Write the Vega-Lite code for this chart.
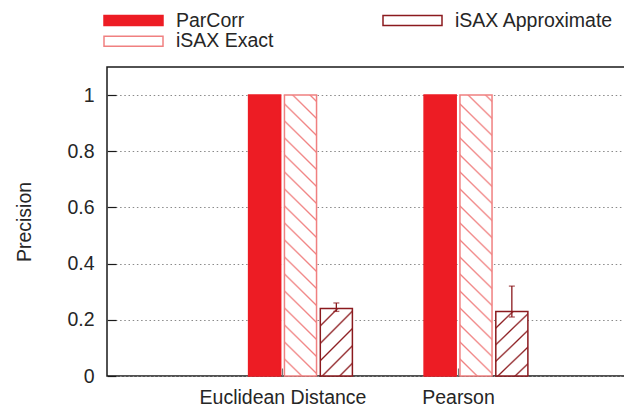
{
  "$schema": "https://vega.github.io/schema/vega-lite/v6.json",
  "width": 518,
  "height": 309,
  "autosize": {"type": "none"},
  "padding": {"left": 107, "top": 67, "right": 0, "bottom": 29},
  "background": "#ffffff",
  "config": {
    "font": "Liberation Sans",
    "view": {"stroke": "#1a1a1a", "strokeWidth": 1.5},
    "axis": {
      "labelFont": "Liberation Sans",
      "labelFontSize": 19.5,
      "labelColor": "#262626",
      "titleFont": "Liberation Sans",
      "titleFontSize": 19.5,
      "titleFontWeight": "normal",
      "titleColor": "#262626",
      "domain": false
    },
    "legend": {
      "orient": "none",
      "legendX": -4,
      "legendY": -57,
      "columns": 2,
      "direction": "horizontal",
      "symbolType": "M-1,-0.1695L1,-0.1695L1,0.1695L-1,0.1695Z",
      "symbolSize": 3481,
      "symbolStrokeWidth": 1.5,
      "symbolOpacity": 1,
      "clipHeight": 20.5,
      "rowPadding": 0,
      "columnPadding": 108,
      "labelOffset": 12,
      "labelFont": "Liberation Sans",
      "labelFontSize": 19.5,
      "labelColor": "#262626",
      "labelLimit": 400,
      "padding": 0
    }
  },
  "data": {
    "values": [
      {"measure": "Euclidean Distance", "series": "ParCorr", "value": 1},
      {"measure": "Euclidean Distance", "series": "iSAX Exact", "value": 1},
      {"measure": "Euclidean Distance", "series": "iSAX Approximate", "value": 0.24, "lo": 0.23, "hi": 0.26},
      {"measure": "Pearson", "series": "ParCorr", "value": 1},
      {"measure": "Pearson", "series": "iSAX Exact", "value": 1},
      {"measure": "Pearson", "series": "iSAX Approximate", "value": 0.23, "lo": 0.21, "hi": 0.32}
    ]
  },
  "encoding": {
    "x": {
      "field": "measure",
      "type": "nominal",
      "scale": {"domain": ["Euclidean Distance", "Pearson"], "paddingInner": 0, "paddingOuter": 0.4758, "align": 0.6332},
      "axis": {
        "title": null,
        "labelAngle": 0,
        "grid": false,
        "tickSize": -8,
        "tickColor": "#777777",
        "tickWidth": 1.2,
        "bandPosition": 0.5,
        "tickOffset": -18,
        "labelPadding": 35,
        "labelBaseline": "alphabetic"
      }
    },
    "xOffset": {
      "field": "series",
      "type": "nominal",
      "scale": {"domain": ["ParCorr", "iSAX Exact", "iSAX Approximate"], "paddingInner": 0.105, "paddingOuter": 1.0455}
    }
  },
  "layer": [
    {
      "mark": {"type": "bar", "strokeWidth": 1.5},
      "encoding": {
        "y": {
          "field": "value",
          "type": "quantitative",
          "scale": {"domain": [0, 1.1], "nice": false, "zero": true},
          "axis": {
            "values": [0, 0.2, 0.4, 0.6, 0.8, 1],
            "format": "~g",
            "grid": true,
            "gridColor": "#8a8a8a",
            "gridDash": [1.5, 2.7],
            "gridWidth": 1.2,
            "tickSize": -9,
            "tickColor": "#1a1a1a",
            "tickWidth": 1.2,
            "labelPadding": 22,
            "title": "Precision",
            "titleAngle": -90,
            "titleX": -77,
            "titleY": 154.5,
            "titleAlign": "center",
            "titleBaseline": "alphabetic"
          }
        },
        "stroke": {
          "field": "series",
          "type": "nominal",
          "scale": {"domain": ["ParCorr", "iSAX Approximate", "iSAX Exact"], "range": ["#ed1c24", "#8b1a1e", "#f08080"]},
          "legend": {"title": null}
        },
        "fill": {
          "field": "series",
          "type": "nominal",
          "scale": {"domain": ["ParCorr", "iSAX Approximate", "iSAX Exact"], "range": ["#ed1c24", "#ffffff", "#ffffff"]},
          "legend": {"title": null},
          "condition": [
            {"test": "datum.series === 'iSAX Exact'", "value": {"gradient": "linear", "x1": 0, "y1": 1, "x2": 0.1232, "y2": -0.0985, "stops": [
              {"offset": 0, "color": "#ffffff"},
              {"offset": 0.0486, "color": "#ffffff"}, {"offset": 0.0544, "color": "#f08080"}, {"offset": 0.0602, "color": "#ffffff"},
              {"offset": 0.1030, "color": "#ffffff"}, {"offset": 0.1088, "color": "#f08080"}, {"offset": 0.1146, "color": "#ffffff"},
              {"offset": 0.1575, "color": "#ffffff"}, {"offset": 0.1633, "color": "#f08080"}, {"offset": 0.1691, "color": "#ffffff"},
              {"offset": 0.2119, "color": "#ffffff"}, {"offset": 0.2177, "color": "#f08080"}, {"offset": 0.2235, "color": "#ffffff"},
              {"offset": 0.2663, "color": "#ffffff"}, {"offset": 0.2721, "color": "#f08080"}, {"offset": 0.2779, "color": "#ffffff"},
              {"offset": 0.3207, "color": "#ffffff"}, {"offset": 0.3265, "color": "#f08080"}, {"offset": 0.3323, "color": "#ffffff"},
              {"offset": 0.3751, "color": "#ffffff"}, {"offset": 0.3809, "color": "#f08080"}, {"offset": 0.3867, "color": "#ffffff"},
              {"offset": 0.4296, "color": "#ffffff"}, {"offset": 0.4354, "color": "#f08080"}, {"offset": 0.4412, "color": "#ffffff"},
              {"offset": 0.4840, "color": "#ffffff"}, {"offset": 0.4898, "color": "#f08080"}, {"offset": 0.4956, "color": "#ffffff"},
              {"offset": 0.5384, "color": "#ffffff"}, {"offset": 0.5442, "color": "#f08080"}, {"offset": 0.5500, "color": "#ffffff"},
              {"offset": 0.5928, "color": "#ffffff"}, {"offset": 0.5986, "color": "#f08080"}, {"offset": 0.6044, "color": "#ffffff"},
              {"offset": 0.6472, "color": "#ffffff"}, {"offset": 0.6530, "color": "#f08080"}, {"offset": 0.6588, "color": "#ffffff"},
              {"offset": 0.7017, "color": "#ffffff"}, {"offset": 0.7075, "color": "#f08080"}, {"offset": 0.7133, "color": "#ffffff"},
              {"offset": 0.7561, "color": "#ffffff"}, {"offset": 0.7619, "color": "#f08080"}, {"offset": 0.7677, "color": "#ffffff"},
              {"offset": 0.8105, "color": "#ffffff"}, {"offset": 0.8163, "color": "#f08080"}, {"offset": 0.8221, "color": "#ffffff"},
              {"offset": 0.8649, "color": "#ffffff"}, {"offset": 0.8707, "color": "#f08080"}, {"offset": 0.8765, "color": "#ffffff"},
              {"offset": 0.9193, "color": "#ffffff"}, {"offset": 0.9251, "color": "#f08080"}, {"offset": 0.9309, "color": "#ffffff"},
              {"offset": 0.9738, "color": "#ffffff"}, {"offset": 0.9796, "color": "#f08080"}, {"offset": 0.9854, "color": "#ffffff"},
              {"offset": 1, "color": "#ffffff"}
            ]}},
            {"test": "datum.series === 'iSAX Approximate'", "value": {"gradient": "linear", "x1": 0, "y1": 0, "x2": 0.5743, "y2": 1.2033, "stops": [
              {"offset": 0, "color": "#ffffff"},
              {"offset": 0.1559, "color": "#ffffff"}, {"offset": 0.1744, "color": "#8b1a1e"}, {"offset": 0.1929, "color": "#ffffff"},
              {"offset": 0.3302, "color": "#ffffff"}, {"offset": 0.3487, "color": "#8b1a1e"}, {"offset": 0.3672, "color": "#ffffff"},
              {"offset": 0.5046, "color": "#ffffff"}, {"offset": 0.5231, "color": "#8b1a1e"}, {"offset": 0.5416, "color": "#ffffff"},
              {"offset": 0.6789, "color": "#ffffff"}, {"offset": 0.6974, "color": "#8b1a1e"}, {"offset": 0.7159, "color": "#ffffff"},
              {"offset": 0.8533, "color": "#ffffff"}, {"offset": 0.8718, "color": "#8b1a1e"}, {"offset": 0.8903, "color": "#ffffff"},
              {"offset": 1, "color": "#ffffff"}
            ]}}
          ]
        }
      }
    },
    {
      "transform": [{"filter": "datum.hi != null"}],
      "mark": {"type": "rule", "color": "#8b1a1e", "strokeWidth": 1.3},
      "encoding": {
        "y": {"field": "lo", "type": "quantitative"},
        "y2": {"field": "hi"}
      }
    },
    {
      "transform": [{"filter": "datum.hi != null"}],
      "mark": {"type": "tick", "orient": "horizontal", "size": 6, "thickness": 1.3, "color": "#8b1a1e"},
      "encoding": {
        "y": {"field": "lo", "type": "quantitative"}
      }
    },
    {
      "transform": [{"filter": "datum.hi != null"}],
      "mark": {"type": "tick", "orient": "horizontal", "size": 6, "thickness": 1.3, "color": "#8b1a1e"},
      "encoding": {
        "y": {"field": "hi", "type": "quantitative"}
      }
    }
  ]
}
